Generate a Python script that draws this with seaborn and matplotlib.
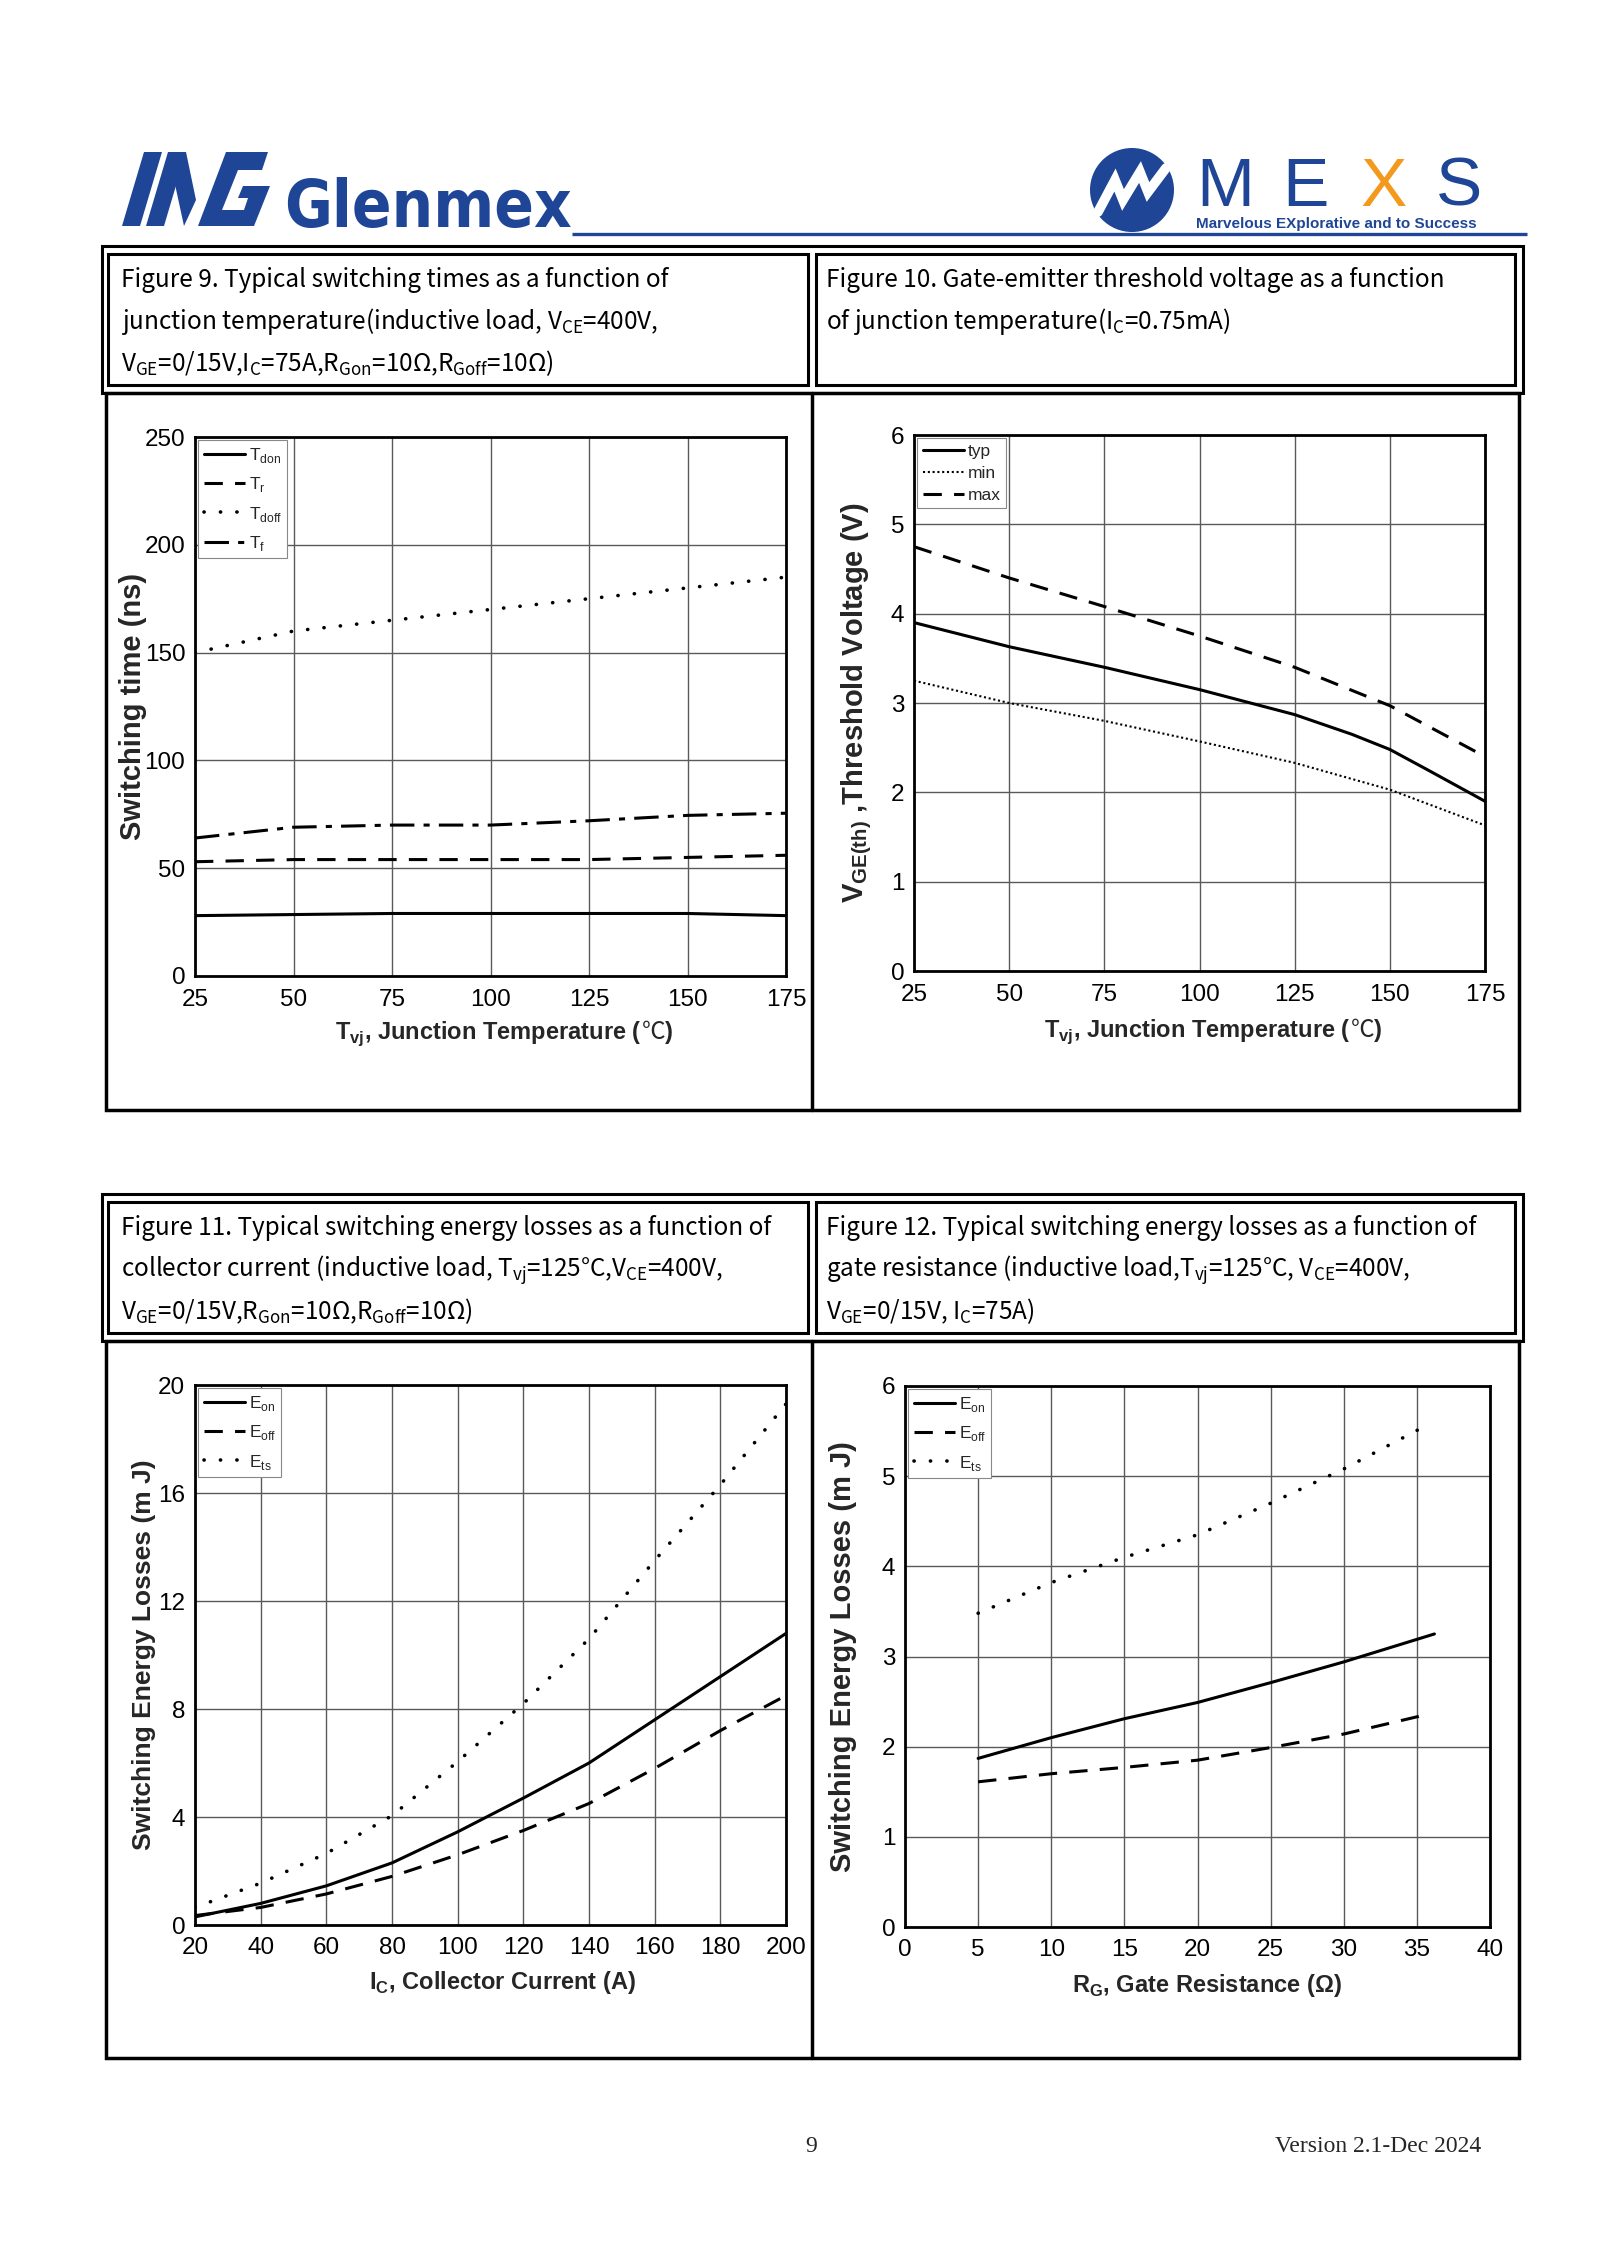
import matplotlib
matplotlib.use("Agg")
import matplotlib.pyplot as plt
import seaborn as sns
import pandas as pd
from matplotlib.patches import Rectangle, Polygon, Circle

W, H = 1600, 2262

# Figure 9: switching times vs junction temperature
temp = [25, 50, 75, 100, 125, 150, 175]
t_don = [28, 28.5, 29, 29, 29, 29, 28]
t_r = [53, 54, 54, 54, 54, 55, 56]
t_doff = [150, 160, 165, 170, 175, 180, 185]
t_f = [64, 69, 70, 70, 72, 74.5, 75.5]

# Figure 10: threshold voltage vs junction temperature
temp_typ = [25, 50, 75, 100, 125, 140, 150, 160, 175]
vth_typ = [3.9, 3.63, 3.4, 3.15, 2.87, 2.65, 2.48, 2.25, 1.9]
vth_min = [3.25, 3.0, 2.8, 2.57, 2.33, 2.03, 1.63]
vth_max = [4.75, 4.4, 4.08, 3.75, 3.4, 2.97, 2.4]

# Figure 11: energy losses vs collector current
current = [20, 40, 60, 80, 100, 120, 140, 160, 180, 200]
e_on_ic = [0.3, 0.8, 1.45, 2.3, 3.45, 4.7, 6.0, 7.6, 9.2, 10.8]
e_off_ic = [0.35, 0.65, 1.15, 1.8, 2.6, 3.5, 4.5, 5.8, 7.2, 8.5]
e_ts_ic = [0.65, 1.55, 2.65, 4.05, 6.05, 8.2, 10.6, 13.5, 16.3, 19.3]

# Figure 12: energy losses vs gate resistance
rg_on = [5, 10, 15, 20, 25, 30, 36.2]
rg = [5, 10, 15, 20, 25, 30, 35.5]
e_on_rg = [1.87, 2.1, 2.31, 2.49, 2.71, 2.94, 3.25]
e_off_rg = [1.61, 1.7, 1.77, 1.85, 1.99, 2.14, 2.35]
e_ts_rg = [3.48, 3.82, 4.1, 4.35, 4.7, 5.08, 5.55]

captions_top = [
    ["Figure 9. Typical switching times as a function of",
     r"junction temperature(inductive load, V$_\mathregular{CE}$=400V,",
     r"V$_\mathregular{GE}$=0/15V,I$_\mathregular{C}$=75A,R$_\mathregular{Gon}$=10Ω,R$_\mathregular{Goff}$=10Ω)"],
    ["Figure 10. Gate-emitter threshold voltage as a function",
     r"of junction temperature(I$_\mathregular{C}$=0.75mA)"],
]
captions_bottom = [
    ["Figure 11. Typical switching energy losses as a function of",
     r"collector current (inductive load, T$_\mathregular{vj}$=125°C,V$_\mathregular{CE}$=400V,",
     r"V$_\mathregular{GE}$=0/15V,R$_\mathregular{Gon}$=10Ω,R$_\mathregular{Goff}$=10Ω)"],
    ["Figure 12. Typical switching energy losses as a function of",
     r"gate resistance (inductive load,T$_\mathregular{vj}$=125°C, V$_\mathregular{CE}$=400V,",
     r"V$_\mathregular{GE}$=0/15V, I$_\mathregular{C}$=75A)"],
]

sns.set_theme(style="white")
plt.rcParams["font.family"] = ["Liberation Sans", "DejaVu Sans", "Noto Sans CJK SC"]
plt.rcParams["axes.unicode_minus"] = False

LABEL_FONT = ["Liberation Sans", "DejaVu Sans", "Noto Sans CJK SC"]
CAP_FONT = ["Noto Sans CJK SC", "DejaVu Sans"]
BLUE = "#1f4597"

fig = plt.figure(figsize=(W / 100, H / 100), dpi=100)
fig.patch.set_facecolor("white")
renderer = fig.canvas.get_renderer()

# overlay in pixel coordinates for page decoration
deco = fig.add_axes([0, 0, 1, 1])
deco.set_xlim(0, W)
deco.set_ylim(H, 0)
deco.axis("off")
deco.patch.set_alpha(0)


def box(x0, y0, x1, y1, lw=2.2):
    deco.add_patch(Rectangle((x0, y0), x1 - x0, y1 - y0, fill=False, ec="black", lw=lw))


def table(dy):
    box(102, 246 + dy, 1523, 393 + dy)
    box(108, 254 + dy, 808, 385 + dy)
    box(816, 254 + dy, 1515, 385 + dy)
    box(106, 393 + dy, 1519, 1110 + dy, lw=2.5)
    deco.plot([812, 812], [393 + dy, 1110 + dy], color="black", lw=2.5)


table(0)
table(948)


def captions(lines_pair, y_first):
    for x0, lines in zip([121, 826], lines_pair):
        for i, s in enumerate(lines):
            deco.text(x0, y_first + i * 41.5, s, family=CAP_FONT, fontsize=17.5,
                      va="center", ha="left", color="black")


captions(captions_top, 280)
captions(captions_bottom, 1228)


def mixed_label(x_center, y_base, parts):
    # several text pieces in different fonts, laid side by side on one baseline
    texts = [deco.text(0, y_base, s, ha="left", va="baseline", **kw) for s, kw in parts]
    widths = [t.get_window_extent(renderer).width for t in texts]
    x = x_center - sum(widths) / 2
    for t, w in zip(texts, widths):
        t.set_x(x)
        x += w


# header logos
deco.plot([572, 1527], [234, 234], color=BLUE, lw=2.4, solid_capstyle="butt")
for pts in ([(122, 226), (144, 152), (162, 152), (140, 226)],
            [(146, 226), (168, 152), (186, 152), (164, 226)],
            [(168, 152), (186, 152), (196, 200), (184, 226)],
            [(198, 226), (226, 152), (268, 152), (262, 170), (238, 170),
             (222, 210), (244, 210), (248, 198), (238, 198), (243, 186),
             (270, 186), (254, 226)]):
    deco.add_patch(Polygon(pts, closed=True, fc=BLUE, ec="none"))

glen = deco.text(284, 227, "Glenmex", family=["DejaVu Sans"], fontstretch="condensed",
                 fontweight="bold", fontsize=70, color=BLUE, ha="left", va="baseline")
bb = glen.get_window_extent(renderer)
glen.set_fontsize(70 * 288 / bb.width)

deco.add_patch(Circle((1132, 190), 42, fc=BLUE, ec="none"))
deco.plot([1098, 1115, 1123, 1140, 1148, 1166], [212, 180, 200, 172, 192, 168],
          color="white", lw=7, solid_joinstyle="miter")
for ch, xc, col in [("M", 1196, BLUE), ("E", 1282, BLUE), ("X", 1360, "#f39a1e"), ("S", 1436, BLUE)]:
    deco.text(xc, 206, ch, family=LABEL_FONT, fontsize=50, color=col, ha="left", va="baseline")
deco.text(1196, 228, "Marvelous EXplorative and to Success", family=LABEL_FONT,
          fontweight="bold", fontsize=11, color=BLUE, ha="left", va="baseline")

# footer
deco.text(811, 2147, "9", family=["Liberation Serif"], fontsize=17, ha="center", va="center")
deco.text(1275, 2147, "Version 2.1-Dec 2024", family=["Liberation Serif"], fontsize=17,
          ha="left", va="center")


def make_ax(x0, y0, x1, y1):
    return fig.add_axes([x0 / W, 1 - y1 / H, (x1 - x0) / W, (y1 - y0) / H])


def style_ax(ax, xlim, xticks, ylim, yticks, xlabel, ylabel, xl_pos, yl_pos, ylsize, spacing):
    ax.set_xlim(*xlim)
    ax.set_ylim(*ylim)
    ax.set_xticks(xticks)
    ax.set_yticks(yticks)
    ax.grid(True, color="#5a5a5a", lw=1.0)
    for sp in ax.spines.values():
        sp.set_visible(True)
        sp.set_color("black")
        sp.set_linewidth(2.0)
    ax.tick_params(length=0, labelsize=17.5, colors="black")
    ax.tick_params(axis="x", pad=9)
    ax.tick_params(axis="y", pad=7)
    ax.set_xlabel(xlabel, family=LABEL_FONT, fontweight="bold", fontsize=17)
    ax.set_ylabel(ylabel, family=LABEL_FONT, fontweight="bold", fontsize=ylsize)
    if xl_pos is not None:
        ax.xaxis.set_label_coords(*xl_pos)
        ax.xaxis.label.set_va("center")
    ax.yaxis.set_label_coords(*yl_pos)
    ax.yaxis.label.set_va("center")
    leg = ax.legend(loc="upper left", bbox_to_anchor=(0, 1), borderaxespad=0.2,
                    fontsize=12.5, handlelength=2.4, handletextpad=0.2, labelspacing=spacing,
                    borderpad=0.3, fancybox=False, framealpha=1)
    leg.get_frame().set_edgecolor("#888888")
    leg.get_frame().set_linewidth(0.8)


dash = (0, (6, 4))
round_dot = (0, (0.05, 4.5))
dashdot = (0, (8, 3, 2, 3))

# Figure 9
ax9 = make_ax(195, 437, 786, 976)
df9 = pd.DataFrame({"T": temp, "don": t_don, "r": t_r, "doff": t_doff, "f": t_f})
sns.lineplot(data=df9, x="T", y="don", ax=ax9, color="black", lw=2.2, label=r"T$_\mathregular{don}$")
sns.lineplot(data=df9, x="T", y="r", ax=ax9, color="black", lw=2.2, linestyle=dash, label=r"T$_\mathregular{r}$")
sns.lineplot(data=df9, x="T", y="doff", ax=ax9, color="black", lw=2.6, linestyle=round_dot,
             dash_capstyle="round", label=r"T$_\mathregular{doff}$")
sns.lineplot(data=df9, x="T", y="f", ax=ax9, color="black", lw=2.2, linestyle=dashdot, label=r"T$_\mathregular{f}$")
style_ax(ax9, (25, 175), range(25, 176, 25), (0, 250), range(0, 251, 50),
         "", "Switching time (ns)", None, (-0.105, 0.5), 21, 0.6)

# Figure 10
ax10 = make_ax(914, 435, 1485, 971)
sns.lineplot(x=temp_typ, y=vth_typ, ax=ax10, color="black", lw=2.2, label="typ")
sns.lineplot(x=temp, y=vth_min, ax=ax10, color="black", lw=1.5, linestyle=(0, (1, 1.3)), label="min")
sns.lineplot(x=temp, y=vth_max, ax=ax10, color="black", lw=2.2, linestyle=dash, label="max")
style_ax(ax10, (25, 175), range(25, 176, 25), (0, 6), range(0, 7),
         "", r"V$_\mathregular{GE(th)}$ ,Threshold Voltage (V)", None, (-0.10, 0.5), 21, 0.4)

# x labels with the Celsius sign taken from a CJK font
bold_kw = dict(family=LABEL_FONT, fontweight="bold", fontsize=17)
cjk_kw = dict(family=["Noto Sans CJK SC"], fontsize=17)
for xc, yb in [(504, 1039), (1213, 1037)]:
    mixed_label(xc, yb, [(r"T$_\mathregular{vj}$, Junction Temperature (", bold_kw),
                         ("℃", cjk_kw), (")", bold_kw)])

# Figure 11
ax11 = make_ax(195, 1385, 786, 1925)
df11 = pd.DataFrame({"Ic": current, "on": e_on_ic, "off": e_off_ic, "ts": e_ts_ic})
sns.lineplot(data=df11, x="Ic", y="on", ax=ax11, color="black", lw=2.2, label=r"E$_\mathregular{on}$")
sns.lineplot(data=df11, x="Ic", y="off", ax=ax11, color="black", lw=2.2, linestyle=dash, label=r"E$_\mathregular{off}$")
sns.lineplot(data=df11, x="Ic", y="ts", ax=ax11, color="black", lw=2.6, linestyle=round_dot,
             dash_capstyle="round", label=r"E$_\mathregular{ts}$")
style_ax(ax11, (20, 200), range(20, 201, 20), (0, 20), range(0, 21, 4),
         r"I$_\mathregular{C}$, Collector Current (A)", "Switching Energy Losses (m J)",
         (0.52, -0.106), (-0.086, 0.5), 19, 0.6)

# Figure 12
ax12 = make_ax(905, 1386, 1490, 1927)
sns.lineplot(x=rg_on, y=e_on_rg, ax=ax12, color="black", lw=2.2, label=r"E$_\mathregular{on}$")
sns.lineplot(x=rg, y=e_off_rg, ax=ax12, color="black", lw=2.2, linestyle=dash, label=r"E$_\mathregular{off}$")
sns.lineplot(x=rg, y=e_ts_rg, ax=ax12, color="black", lw=2.6, linestyle=round_dot,
             dash_capstyle="round", label=r"E$_\mathregular{ts}$")
style_ax(ax12, (0, 40), range(0, 41, 5), (0, 6), range(0, 7),
         r"R$_\mathregular{G}$, Gate Resistance (Ω)", "Switching Energy Losses (m J)",
         (0.517, -0.108), (-0.106, 0.5), 21, 0.6)

fig.savefig("out.png", dpi=100)
